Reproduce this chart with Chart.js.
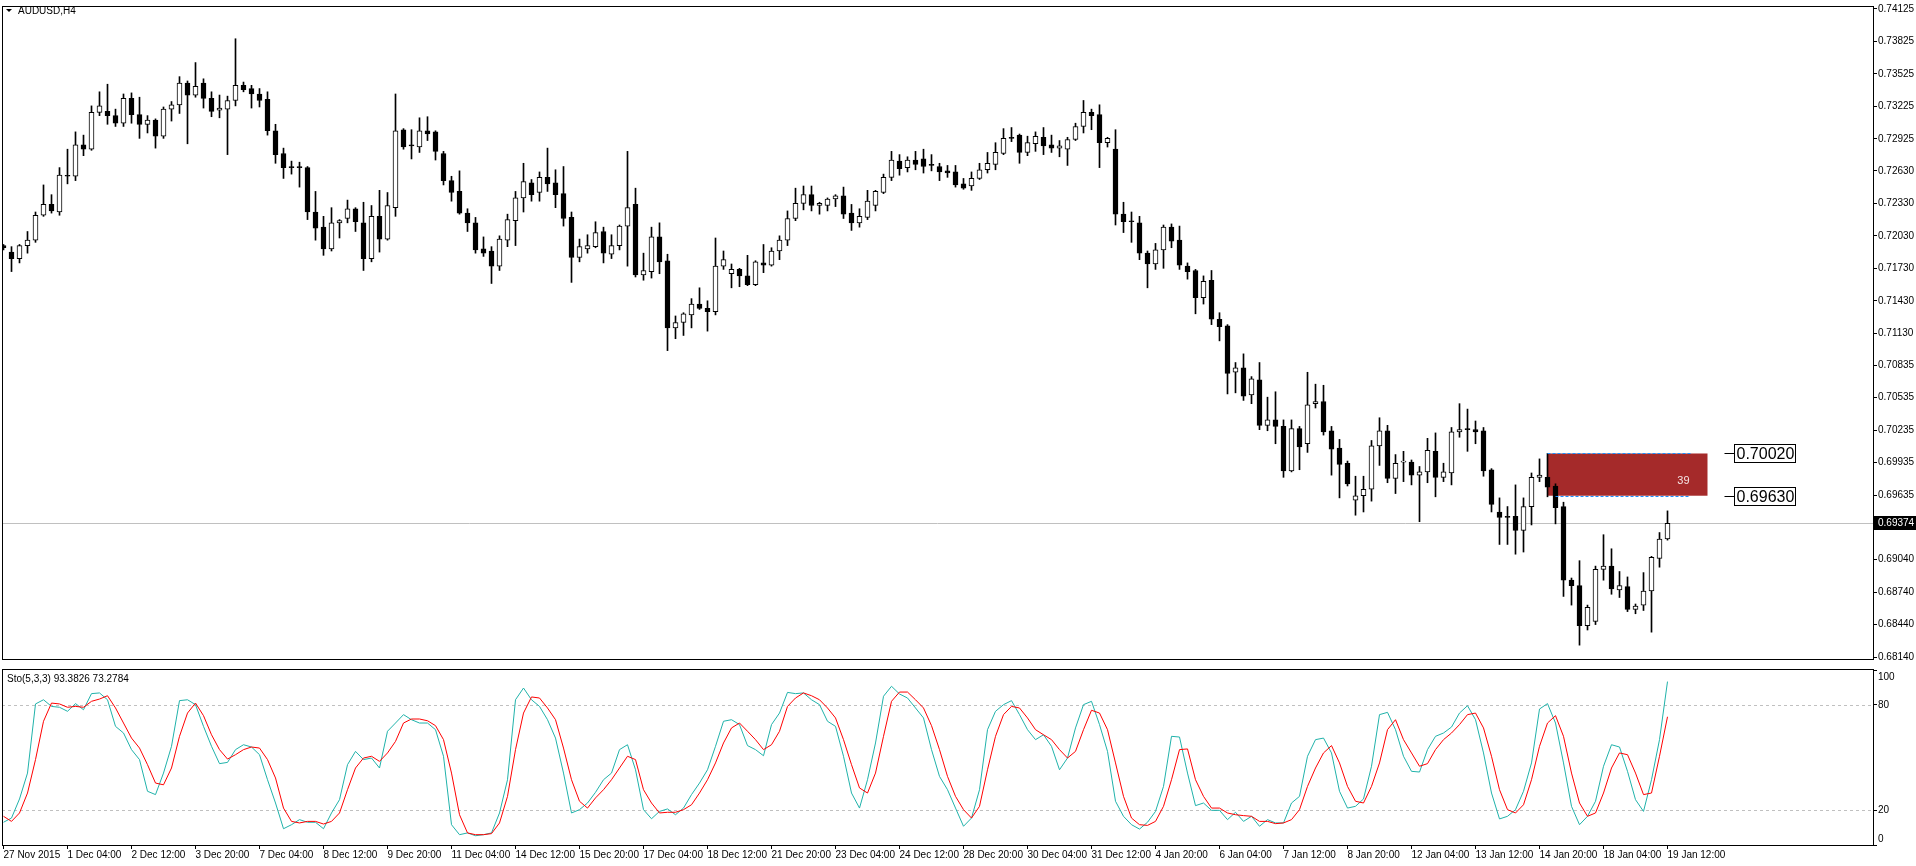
<!DOCTYPE html>
<html>
<head>
<meta charset="utf-8">
<title>AUDUSD,H4</title>
<script src="https://cdn.jsdelivr.net/npm/chart.js@4.4.1/dist/chart.umd.min.js"></script>
<style>
  html, body { margin: 0; padding: 0; background: #fff; overflow: hidden; }
  #wrap { position: relative; width: 1916px; height: 866px; }
  canvas { position: absolute; left: 0; }
  #main { top: 0; }
  #sto { top: 667px; }
</style>
</head>
<body>
<div id="wrap">
  <canvas id="main" width="1916" height="667"></canvas>
  <canvas id="sto" width="1916" height="199"></canvas>
</div>
<script>
/* ============== DATA ============== */
const symbol = "AUDUSD,H4";

// H4 candles, first bar 27 Nov 2015 20:00
const opens = [
  0.7194, 0.7188, 0.7182, 0.7194, 0.7199, 0.7222, 0.7232, 0.7225, 0.7258, 0.7258,
  0.7287, 0.7283, 0.7317, 0.7318, 0.7314, 0.7307, 0.7330, 0.7315, 0.7306, 0.7310,
  0.7295, 0.7320, 0.7324, 0.7344, 0.7333, 0.7344, 0.7330, 0.7319, 0.7320, 0.7328,
  0.7342, 0.7339, 0.7334, 0.7329, 0.7300, 0.7279, 0.7266, 0.7266, 0.7266, 0.7225,
  0.7211, 0.7191, 0.7215, 0.7219, 0.7228, 0.7215, 0.7182, 0.7221, 0.7200, 0.7229,
  0.7301, 0.7286, 0.7285, 0.7300, 0.7299, 0.7279, 0.7254, 0.7244, 0.7224, 0.7215,
  0.7191, 0.7189, 0.7175, 0.7199, 0.7217, 0.7238, 0.7252, 0.7243, 0.7257, 0.7252,
  0.7242, 0.7220, 0.7183, 0.7191, 0.7193, 0.7207, 0.7186, 0.7194, 0.7212, 0.7232,
  0.7167, 0.7170, 0.7202, 0.7180, 0.7118, 0.7123, 0.7130, 0.7140, 0.7136, 0.7133,
  0.7175, 0.7168, 0.7172, 0.7166, 0.7158, 0.7178, 0.7176, 0.7189, 0.7199, 0.7219,
  0.7233, 0.7241, 0.7231, 0.7231, 0.7237, 0.7240, 0.7224, 0.7215, 0.7220, 0.7231,
  0.7243, 0.7257, 0.7272, 0.7266, 0.7273, 0.7274, 0.7268, 0.7267, 0.7263, 0.7262,
  0.7251, 0.7249, 0.7256, 0.7264, 0.7269, 0.7279, 0.7294, 0.7296, 0.7280, 0.7288,
  0.7294, 0.7287, 0.7284, 0.7283, 0.7292, 0.7304, 0.7317, 0.7315, 0.7289, 0.7283,
  0.7223, 0.7216, 0.7215, 0.7187, 0.7177, 0.7190, 0.7211, 0.7199, 0.7175, 0.7171,
  0.7146, 0.7162, 0.7126, 0.7120, 0.7077, 0.7081, 0.7056, 0.7070, 0.7028, 0.7033,
  0.7027, 0.6986, 0.7025, 0.7011, 0.7048, 0.7050, 0.7023, 0.7007, 0.6993, 0.6959,
  0.6963, 0.6969, 0.7009, 0.7023, 0.6979, 0.6994, 0.6994, 0.6982, 0.6985, 0.7004,
  0.6980, 0.6984, 0.7022, 0.7024, 0.7024, 0.7023, 0.6987, 0.6948, 0.6944, 0.6944,
  0.6931, 0.6953, 0.6980, 0.6980, 0.6972, 0.6953, 0.6885, 0.6880, 0.6843, 0.6847,
  0.6895, 0.6898, 0.6876, 0.6879, 0.6858, 0.6862, 0.6875, 0.6905, 0.6923
];
const highs = [
  0.7195, 0.7193, 0.7195, 0.7207, 0.7225, 0.7250, 0.7241, 0.7266, 0.7283, 0.7299,
  0.7296, 0.7323, 0.7336, 0.7343, 0.7320, 0.7334, 0.7335, 0.7331, 0.7314, 0.7311,
  0.7322, 0.7327, 0.7350, 0.7346, 0.7363, 0.7348, 0.7336, 0.7333, 0.7332, 0.7385,
  0.7345, 0.7342, 0.7339, 0.7336, 0.7306, 0.7284, 0.7272, 0.7271, 0.7267, 0.7244,
  0.7221, 0.7229, 0.7218, 0.7236, 0.7229, 0.7234, 0.7231, 0.7245, 0.7243, 0.7334,
  0.7302, 0.7301, 0.7312, 0.7313, 0.7300, 0.7281, 0.7258, 0.7263, 0.7228, 0.7220,
  0.7202, 0.7193, 0.7203, 0.7223, 0.7244, 0.7270, 0.7255, 0.7262, 0.7284, 0.7264,
  0.7267, 0.7225, 0.7200, 0.7204, 0.7216, 0.7211, 0.7204, 0.7213, 0.7281, 0.7247,
  0.7187, 0.7211, 0.7215, 0.7186, 0.7129, 0.7132, 0.7145, 0.7155, 0.7143, 0.7201,
  0.7189, 0.7177, 0.7173, 0.7185, 0.7180, 0.7195, 0.7192, 0.7203, 0.7226, 0.7247,
  0.7249, 0.7249, 0.7234, 0.7238, 0.7241, 0.7248, 0.7232, 0.7228, 0.7245, 0.7245,
  0.7260, 0.7281, 0.7278, 0.7276, 0.7281, 0.7283, 0.7278, 0.7270, 0.7268, 0.7268,
  0.7256, 0.7262, 0.7270, 0.7280, 0.7289, 0.7302, 0.7303, 0.7297, 0.7295, 0.7299,
  0.7303, 0.7296, 0.7291, 0.7294, 0.7307, 0.7328, 0.7320, 0.7324, 0.7294, 0.7301,
  0.7234, 0.7225, 0.7221, 0.7189, 0.7196, 0.7213, 0.7214, 0.7212, 0.7178, 0.7172,
  0.7166, 0.7171, 0.7132, 0.7121, 0.7086, 0.7094, 0.7073, 0.7086, 0.7054, 0.7059,
  0.7033, 0.7033, 0.7027, 0.7077, 0.7066, 0.7065, 0.7027, 0.7015, 0.6995, 0.6981,
  0.6981, 0.7014, 0.7035, 0.7028, 0.7001, 0.7004, 0.6996, 0.6990, 0.7016, 0.7021,
  0.6993, 0.7026, 0.7048, 0.7043, 0.7032, 0.7026, 0.6988, 0.6961, 0.6953, 0.6973,
  0.6961, 0.6984, 0.6997, 0.7002, 0.6974, 0.6957, 0.6887, 0.6903, 0.6862, 0.6898,
  0.6927, 0.6914, 0.6893, 0.6888, 0.6863, 0.6892, 0.6907, 0.6929, 0.6949
];
const lows = [
  0.7190, 0.7170, 0.7178, 0.7187, 0.7197, 0.7221, 0.7224, 0.7222, 0.7251, 0.7254,
  0.7277, 0.7282, 0.7314, 0.7306, 0.7304, 0.7304, 0.7307, 0.7293, 0.7298, 0.7284,
  0.7293, 0.7309, 0.7316, 0.7288, 0.7331, 0.7321, 0.7313, 0.7312, 0.7278, 0.7323,
  0.7336, 0.7321, 0.7322, 0.7296, 0.7270, 0.7256, 0.7260, 0.7248, 0.7218, 0.7199,
  0.7185, 0.7189, 0.7201, 0.7215, 0.7207, 0.7171, 0.7179, 0.7188, 0.7199, 0.7221,
  0.7283, 0.7274, 0.7280, 0.7291, 0.7273, 0.7250, 0.7235, 0.7223, 0.7207, 0.7187,
  0.7184, 0.7159, 0.7171, 0.7193, 0.7194, 0.7225, 0.7235, 0.7235, 0.7244, 0.7229,
  0.7212, 0.7160, 0.7179, 0.7187, 0.7192, 0.7178, 0.7182, 0.7190, 0.7175, 0.7165,
  0.7162, 0.7164, 0.7168, 0.7097, 0.7108, 0.7111, 0.7118, 0.7135, 0.7115, 0.7130,
  0.7172, 0.7155, 0.7156, 0.7157, 0.7157, 0.7169, 0.7175, 0.7181, 0.7194, 0.7217,
  0.7227, 0.7226, 0.7223, 0.7226, 0.7230, 0.7219, 0.7208, 0.7211, 0.7218, 0.7226,
  0.7242, 0.7254, 0.7259, 0.7262, 0.7264, 0.7261, 0.7263, 0.7254, 0.7257, 0.7248,
  0.7246, 0.7245, 0.7255, 0.7261, 0.7264, 0.7278, 0.7290, 0.7270, 0.7277, 0.7281,
  0.7278, 0.7280, 0.7276, 0.7268, 0.7291, 0.7298, 0.7301, 0.7266, 0.7285, 0.7213,
  0.7206, 0.7197, 0.7181, 0.7155, 0.7172, 0.7173, 0.7192, 0.7172, 0.7163, 0.7131,
  0.7140, 0.7121, 0.7106, 0.7057, 0.7058, 0.7051, 0.7048, 0.7024, 0.7023, 0.7011,
  0.6980, 0.6985, 0.6987, 0.7003, 0.7044, 0.7019, 0.6982, 0.6961, 0.6972, 0.6945,
  0.6948, 0.6958, 0.6991, 0.6975, 0.6965, 0.6976, 0.6973, 0.6939, 0.6975, 0.6962,
  0.6976, 0.6973, 0.7017, 0.7004, 0.7011, 0.6981, 0.6948, 0.6918, 0.6918, 0.6909,
  0.6911, 0.6936, 0.6976, 0.6962, 0.6937, 0.6870, 0.6862, 0.6825, 0.6839, 0.6844,
  0.6885, 0.6872, 0.6869, 0.6856, 0.6854, 0.6857, 0.6837, 0.6897, 0.6922
];
const closes = [
  0.7192, 0.7182, 0.7194, 0.7199, 0.7222, 0.7232, 0.7226, 0.7259, 0.7258, 0.7287,
  0.7283, 0.7317, 0.7323, 0.7314, 0.7307, 0.7330, 0.7315, 0.7306, 0.7310, 0.7295,
  0.7320, 0.7324, 0.7344, 0.7333, 0.7341, 0.7330, 0.7318, 0.7321, 0.7328, 0.7342,
  0.7338, 0.7334, 0.7328, 0.7300, 0.7278, 0.7266, 0.7266, 0.7266, 0.7225, 0.7210,
  0.7191, 0.7215, 0.7217, 0.7228, 0.7216, 0.7182, 0.7221, 0.7200, 0.7231, 0.7300,
  0.7285, 0.7286, 0.7300, 0.7297, 0.7281, 0.7254, 0.7243, 0.7224, 0.7215, 0.7190,
  0.7187, 0.7175, 0.7200, 0.7218, 0.7238, 0.7253, 0.7241, 0.7257, 0.7251, 0.7241,
  0.7219, 0.7183, 0.7193, 0.7194, 0.7206, 0.7187, 0.7194, 0.7212, 0.7229, 0.7167,
  0.7171, 0.7202, 0.7179, 0.7118, 0.7123, 0.7131, 0.7140, 0.7136, 0.7133, 0.7175,
  0.7181, 0.7172, 0.7166, 0.7158, 0.7179, 0.7176, 0.7189, 0.7199, 0.7219, 0.7233,
  0.7241, 0.7231, 0.7233, 0.7237, 0.7240, 0.7223, 0.7215, 0.7221, 0.7235, 0.7244,
  0.7257, 0.7273, 0.7265, 0.7273, 0.7269, 0.7267, 0.7268, 0.7262, 0.7261, 0.7250,
  0.7247, 0.7256, 0.7264, 0.7270, 0.7280, 0.7293, 0.7293, 0.7280, 0.7289, 0.7295,
  0.7286, 0.7284, 0.7286, 0.7292, 0.7304, 0.7317, 0.7314, 0.7289, 0.7293, 0.7223,
  0.7216, 0.7216, 0.7187, 0.7177, 0.7190, 0.7211, 0.7198, 0.7176, 0.7170, 0.7146,
  0.7161, 0.7126, 0.7119, 0.7076, 0.7081, 0.7055, 0.7071, 0.7028, 0.7033, 0.7027,
  0.6986, 0.7025, 0.7008, 0.7047, 0.7050, 0.7022, 0.7006, 0.6992, 0.6974, 0.6963,
  0.6969, 0.7009, 0.7023, 0.6979, 0.6993, 0.6995, 0.6982, 0.6985, 0.7005, 0.6980,
  0.6985, 0.7022, 0.7024, 0.7024, 0.7022, 0.6986, 0.6955, 0.6943, 0.6943, 0.6931,
  0.6953, 0.6980, 0.6982, 0.6971, 0.6952, 0.6885, 0.6880, 0.6843, 0.6860, 0.6895,
  0.6898, 0.6877, 0.6880, 0.6858, 0.6861, 0.6875, 0.6906, 0.6923, 0.69374
];

// Stochastic(5,3,3): main (%K) and signal (%D)
const stoMain = [
  13, 15.4, 26.3, 41.1, 80.6, 83, 79.2, 78.7, 76.4, 80.8,
  77.3, 86.5, 86.9, 83, 67.8, 64, 54.5, 48.8, 30.7, 28.8,
  41.1, 56.4, 82.5, 83, 80.2, 67.8, 56.4, 46.5, 47.2, 54.5,
  57.3, 56, 51.6, 37.3, 24, 9.3, 11.6, 14.5, 13, 13,
  9.3, 18.3, 25.9, 45.9, 53.5, 48.8, 49.7, 44, 65, 69.7,
  74.5, 71.6, 69.7, 69.7, 65.9, 50.7, 11.6, 5.9, 6.9, 5.3,
  5.9, 6.9, 18.3, 37.3, 83, 89.7, 83, 79.2, 71.6, 61.1,
  41.1, 18.3, 20.2, 24, 30.1, 37.3, 41.1, 54.5, 57.3, 43,
  20.2, 15, 19.2, 20.6, 17.3, 21.1, 28.8, 35.4, 43, 56.4,
  70.7, 71.6, 68.8, 56.8, 54.5, 51, 68.8, 75.4, 87.2, 86.5,
  86.9, 83, 80.2, 70.7, 67.8, 50.7, 29.7, 21.1, 37.3, 58.3,
  85, 90.7, 86.3, 84, 78.3, 72.6, 54.5, 39.2, 31.6, 21.1,
  10.7, 15.4, 31.6, 65.9, 76.4, 80.2, 82.5, 74.5, 65.9, 60.2,
  63, 56.4, 43, 49.7, 66.9, 80.2, 82.1, 68.8, 53.5, 25,
  16.4, 11.6, 9.1, 13, 19.2, 33.5, 62.1, 61.7, 41.1, 22.5,
  24, 19.8, 19.8, 14.5, 18.7, 13.5, 16.4, 10.7, 14.5, 12.6,
  12.6, 24, 27.8, 50.7, 60.2, 61.1, 52.6, 30.7, 21.1, 22.1,
  26.3, 45, 74.5, 75.8, 65.9, 50.7, 42.1, 41.7, 54.5, 62.1,
  64, 67.4, 75.4, 79.6, 71.6, 52.6, 29.7, 14.9, 16.4, 20.2,
  30.7, 46.9, 77.7, 80.8, 69.7, 46.9, 22.1, 11.6, 16.4, 25,
  45, 57.3, 56, 42.1, 25.9, 19.2, 37.3, 60.2, 93.3826
];
const stoSignal = [
  16.4, 13.5, 18.3, 29.7, 48.8, 70.7, 81.1, 80.6, 78.7, 79.2,
  78.7, 82.1, 83.4, 85.3, 78.3, 69.7, 61.1, 55.4, 45.9, 35.4,
  34.4, 44, 62.1, 75.4, 81.1, 73.9, 63, 54.5, 49.1, 51.6,
  54.5, 56, 55.4, 48.8, 38.3, 21.1, 13.5, 12.6, 13.5, 13.5,
  12, 13.5, 18.3, 31.6, 44, 49.7, 50.7, 47.8, 52.6, 59.2,
  69.7, 72, 72, 71, 68.2, 60.2, 41.1, 17.3, 6.9, 5.9,
  5.9, 6.5, 12.6, 27.8, 54.5, 75.4, 84.6, 84, 78.3, 71.6,
  55.4, 37.3, 25, 21.1, 26.9, 31.6, 37.3, 44, 50.7, 48.8,
  31.6, 24, 18.3, 18.7, 18.7, 20.2, 23, 29.7, 37.3, 46.9,
  58.3, 66.9, 69.7, 65, 60.2, 54.5, 57.3, 65, 79.2, 84,
  86.9, 85.3, 83, 78.3, 72.6, 60.2, 45.9, 32.6, 29.7, 41.1,
  62.1, 82.1, 87.4, 87.4, 83, 78.3, 68.2, 54.5, 39.2, 27.8,
  20.2, 15.4, 22.1, 43, 62.1, 74.5, 79.2, 78.3, 72.6, 65.9,
  63, 60.2, 54.5, 49.7, 53.5, 65.9, 77, 75.4, 65.9, 46.9,
  27.8, 15.4, 11.6, 11.2, 13.5, 22.1, 37.3, 54.5, 54.9, 37.3,
  27.8, 21.1, 21.1, 18.3, 17.3, 16.8, 16.4, 13.5, 13.5, 12.2,
  12.6, 14.5, 20.2, 33.5, 44, 52.6, 56.8, 46.9, 33.5, 25,
  24, 33.5, 46.9, 65.9, 71.6, 60.2, 52.6, 45, 46.5, 54.5,
  60.2, 64, 68.8, 74.5, 75.4, 66.9, 50.7, 31.6, 20.2, 18.3,
  23, 37.3, 56.4, 69.7, 73.9, 62.1, 41.1, 24, 16.4, 18.3,
  29.7, 44, 52.6, 51.6, 41.1, 28.8, 29.7, 50.7, 73.2784
];

// one time label every 8 bars
const dateLabels = [
  "27 Nov 2015", "1 Dec 04:00", "2 Dec 12:00", "3 Dec 20:00", "7 Dec 04:00",
  "8 Dec 12:00", "9 Dec 20:00", "11 Dec 04:00", "14 Dec 12:00", "15 Dec 20:00",
  "17 Dec 04:00", "18 Dec 12:00", "21 Dec 20:00", "23 Dec 04:00", "24 Dec 12:00",
  "28 Dec 20:00", "30 Dec 04:00", "31 Dec 12:00", "4 Jan 20:00", "6 Jan 04:00",
  "7 Jan 12:00", "8 Jan 20:00", "12 Jan 04:00", "13 Jan 12:00", "14 Jan 20:00",
  "18 Jan 04:00", "19 Jan 12:00"
];
const LABEL_STEP = 8;

const priceTicks = [
  0.74125, 0.73825, 0.73525, 0.73225, 0.72925, 0.72630, 0.72330, 0.72030,
  0.71730, 0.71430, 0.71130, 0.70835, 0.70535, 0.70235, 0.69935, 0.69635,
  0.69335, 0.69040, 0.68740, 0.68440, 0.68140
];
const stoLevels = [100, 80, 20, 0];
const stoDashed = [80, 20];

// supply zone drawn on the chart
const zonePrices = [0.70020, 0.69630];
const zoneBars = [193, 213];

/* ============== HELPERS ============== */
const FONT = '"Liberation Sans", Arial, sans-serif';
const AXIS_W = 43;
const X_MIN = -0.1875, X_MAX = 233.6875;
const Y_MIN = 0.681129, Y_MAX = 0.741432;
const barIdx = closes.map((_, i) => i);
const lastPrice = closes[closes.length - 1];

function panelBorder(ctx, a, extraBottom) {
  ctx.save();
  ctx.strokeStyle = "#000";
  ctx.lineWidth = 1;
  ctx.strokeRect(a.left + 0.5, a.top - 0.5, a.right - a.left, a.bottom - a.top + extraBottom);
  ctx.restore();
}

const mainOverlay = {
  id: "mainOverlay",
  beforeDatasetsDraw(chart) {
    const { ctx, chartArea: a, scales: { x, y } } = chart;
    ctx.save();
    // zone rectangle (behind candles)
    const x0 = x.getPixelForValue(zoneBars[0]);
    const x1 = x.getPixelForValue(zoneBars[1]);
    const yt = y.getPixelForValue(zonePrices[0]);
    const yb = y.getPixelForValue(zonePrices[1]);
    ctx.fillStyle = "#a52a2a";
    ctx.fillRect(x0, yt, x1 - x0, yb - yt);
    // bid line
    const py = Math.round(y.getPixelForValue(lastPrice)) + 0.5;
    ctx.strokeStyle = "#c0c0c0";
    ctx.lineWidth = 1;
    ctx.beginPath();
    ctx.moveTo(a.left, py);
    ctx.lineTo(a.right, py);
    ctx.stroke();
    ctx.restore();
  },
  afterDraw(chart) {
    const { ctx, chartArea: a, scales: { x, y } } = chart;
    panelBorder(ctx, a, 0);
    ctx.save();

    // title
    ctx.fillStyle = "#000";
    ctx.beginPath();
    ctx.moveTo(6, 9); ctx.lineTo(12, 9); ctx.lineTo(9, 12); ctx.closePath();
    ctx.fill();
    ctx.font = "10px " + FONT;
    ctx.textBaseline = "middle";
    ctx.fillText(symbol, 18, 11);

    // zone dotted edges, pip count and price tags
    const x0 = x.getPixelForValue(zoneBars[0]);
    const x1 = x.getPixelForValue(zoneBars[1]);
    ctx.strokeStyle = "#1e90ff";
    ctx.setLineDash([3, 2]);
    zonePrices.forEach((p, k) => {
      const yy = Math.round(y.getPixelForValue(p)) + 0.5;
      ctx.beginPath();
      ctx.moveTo(x0 + k * 8, yy);
      ctx.lineTo(x1 - 17, yy);
      ctx.stroke();
    });
    ctx.setLineDash([]);
    const yb = y.getPixelForValue(zonePrices[1]);
    const pips = Math.round((zonePrices[0] - zonePrices[1]) * 10000);
    ctx.fillStyle = "#f4e4e4";
    ctx.font = "11px " + FONT;
    ctx.textAlign = "right";
    ctx.fillText(String(pips), x1 - 18, yb - 15);

    ctx.textAlign = "left";
    ctx.font = "16px " + FONT;
    ctx.strokeStyle = "#000";
    ctx.lineWidth = 1;
    zonePrices.forEach(p => {
      const yy = Math.round(y.getPixelForValue(p)) + 0.5;
      ctx.beginPath();
      ctx.moveTo(x1 + 17, yy);
      ctx.lineTo(x1 + 27, yy);
      ctx.stroke();
      ctx.fillStyle = "#fff";
      ctx.fillRect(x1 + 27, yy - 9, 61, 18);
      ctx.strokeRect(x1 + 27, yy - 9, 61, 18);
      ctx.fillStyle = "#000";
      ctx.fillText(p.toFixed(5), x1 + 29, yy + 1);
    });

    // bid price tag on the axis
    const py = Math.round(y.getPixelForValue(lastPrice));
    ctx.fillStyle = "#000";
    ctx.fillRect(a.right, py - 7, AXIS_W, 14);
    ctx.fillStyle = "#fff";
    ctx.font = "10px " + FONT;
    ctx.fillText(lastPrice.toFixed(5), a.right + 5, py + 0.5);
    ctx.restore();
  }
};

const stoOverlay = {
  id: "stoOverlay",
  beforeDatasetsDraw(chart) {
    const { ctx, chartArea: a, scales: { y } } = chart;
    ctx.save();
    ctx.strokeStyle = "#c0c0c0";
    ctx.lineWidth = 1;
    ctx.setLineDash([3, 3]);
    stoDashed.forEach(v => {
      const yy = Math.round(y.getPixelForValue(v)) + 0.5;
      ctx.beginPath();
      ctx.moveTo(a.left, yy);
      ctx.lineTo(a.right, yy);
      ctx.stroke();
    });
    ctx.restore();
  },
  afterDraw(chart) {
    const { ctx, chartArea: a, scales: { y } } = chart;
    panelBorder(ctx, a, 1);
    ctx.save();
    ctx.fillStyle = "#000";
    ctx.font = "10px " + FONT;
    ctx.textBaseline = "middle";
    const head = "Sto(5,3,3) " + stoMain[stoMain.length - 1].toFixed(4) + " " +
      stoSignal[stoSignal.length - 1].toFixed(4);
    ctx.fillText(head, 7, a.top + 9);
    stoLevels.forEach(v => {
      const yy = Math.min(Math.max(y.getPixelForValue(v), a.top + 7), a.bottom - 6);
      ctx.fillText(String(v), a.right + 5, yy);
    });
    ctx.restore();
  }
};

/* ============== CHARTS ============== */
const common = {
  responsive: false,
  animation: false,
  devicePixelRatio: 1,
  layout: { padding: { left: 2, top: 3, right: 0, bottom: 0 } },
  plugins: { legend: { display: false }, tooltip: { enabled: false } }
};

new Chart(document.getElementById("main"), {
  type: "bar",
  data: {
    datasets: [
      {
        data: barIdx.map(i => ({ x: i, y: [lows[i], highs[i]] })),
        backgroundColor: "#000",
        borderWidth: 0,
        barThickness: 1,
        grouped: false,
        order: 2
      },
      {
        data: barIdx.map(i => ({ x: i, y: [opens[i], closes[i]] })),
        backgroundColor: c => (closes[c.dataIndex] > opens[c.dataIndex] ? "#fff" : "#000"),
        borderColor: "#000",
        borderWidth: 1,
        borderSkipped: false,
        barThickness: 5,
        minBarLength: 1,
        grouped: false,
        order: 1
      }
    ]
  },
  options: {
    ...common,
    scales: {
      x: { type: "linear", display: false, offset: false, min: X_MIN, max: X_MAX },
      y: {
        position: "right",
        min: Y_MIN,
        max: Y_MAX,
        afterFit: s => { s.width = AXIS_W; },
        afterBuildTicks: s => { s.ticks = priceTicks.map(v => ({ value: v })); },
        ticks: {
          padding: 1,
          color: "#000",
          font: { family: FONT, size: 10 },
          callback: v => Number(v).toFixed(5)
        },
        grid: { drawOnChartArea: false, drawTicks: true, tickLength: 4, color: "#000" },
        border: { display: false }
      }
    }
  },
  plugins: [mainOverlay]
});

new Chart(document.getElementById("sto"), {
  type: "line",
  data: {
    datasets: [
      {
        data: stoSignal.map((v, i) => ({ x: i, y: v })),
        borderColor: "#ff0000",
        borderWidth: 1,
        pointRadius: 0,
        order: 1
      },
      {
        data: stoMain.map((v, i) => ({ x: i, y: v })),
        borderColor: "#20b2aa",
        borderWidth: 1,
        pointRadius: 0,
        order: 2
      }
    ]
  },
  options: {
    ...common,
    scales: {
      x: {
        type: "linear",
        position: "bottom",
        offset: false,
        min: X_MIN,
        max: X_MAX,
        afterFit: s => { s.height = 21; },
        afterBuildTicks: s => { s.ticks = dateLabels.map((t, k) => ({ value: k * LABEL_STEP })); },
        ticks: {
          autoSkip: false,
          maxRotation: 0,
          minRotation: 0,
          align: "start",
          padding: 0,
          color: "#000",
          font: { family: FONT, size: 10 },
          callback: v => dateLabels[Math.round(v / LABEL_STEP)]
        },
        grid: { drawOnChartArea: false, drawTicks: true, tickLength: 4, color: "#000" },
        border: { display: false }
      },
      y: {
        position: "right",
        min: 0,
        max: 100,
        afterFit: s => { s.width = AXIS_W; },
        afterBuildTicks: s => { s.ticks = stoLevels.map(v => ({ value: v })); },
        ticks: { display: false },
        grid: { drawOnChartArea: false, drawTicks: true, tickLength: 4, color: "#000" },
        border: { display: false }
      }
    }
  },
  plugins: [stoOverlay]
});
</script>
</body>
</html>
